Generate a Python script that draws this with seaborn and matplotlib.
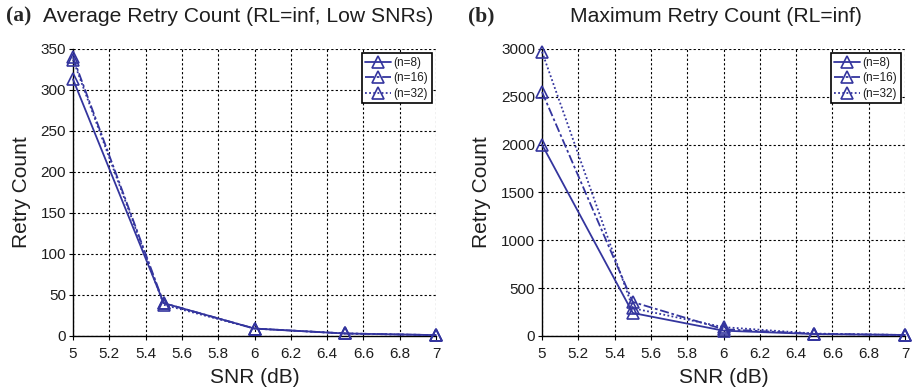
import matplotlib
matplotlib.use("Agg")
import matplotlib.pyplot as plt
import seaborn as sns
import pandas as pd

snr = [5.0, 5.5, 6.0, 6.5, 7.0]
series_names = ["(n=8)", "(n=16)", "(n=32)"]
avg_n8 = [313, 40, 9, 3, 1]
avg_n16 = [340, 40, 9, 3, 1]
avg_n32 = [337, 38, 9, 3, 1]
max_n8 = [2000, 240, 55, 20, 10]
max_n16 = [2550, 355, 70, 22, 10]
max_n32 = [2970, 290, 92, 25, 10]

x_ticks = [5, 5.2, 5.4, 5.6, 5.8, 6, 6.2, 6.4, 6.6, 6.8, 7]
x_ticklabels = ["5", "5.2", "5.4", "5.6", "5.8", "6", "6.2", "6.4", "6.6", "6.8", "7"]
avg_yticks = [0, 50, 100, 150, 200, 250, 300, 350]
max_yticks = [0, 500, 1000, 1500, 2000, 2500, 3000]

sns.set_theme(style="white")
plt.rcParams['font.family'] = ['Liberation Sans', 'DejaVu Sans']

color = "#34359e"
text_color = "#1e1e1e"
dash_map = {"(n=8)": "", "(n=16)": (5, 1.5, 1.5, 1.5), "(n=32)": (1, 1.3)}


def make_df(a, b, c):
    rows = []
    for name, vals in zip(series_names, [a, b, c]):
        for x, y in zip(snr, vals):
            rows.append({"SNR": x, "Retry": y, "n": name})
    return pd.DataFrame(rows)


fig = plt.figure(figsize=(9.15, 3.92), dpi=100)
ax1 = fig.add_axes([0.0798, 0.143, 0.3967, 0.732])
ax2 = fig.add_axes([0.5924, 0.143, 0.3967, 0.732])

panels = [
    (ax1, make_df(avg_n8, avg_n16, avg_n32), avg_yticks, (0, 350)),
    (ax2, make_df(max_n8, max_n16, max_n32), max_yticks, (0, 3000)),
]

for ax, df, yt, ylim in panels:
    sns.lineplot(data=df, x="SNR", y="Retry", style="n", ax=ax,
                 markers={k: "^" for k in series_names}, dashes=dash_map,
                 color=color, markerfacecolor="none", markeredgecolor=color,
                 markeredgewidth=1.2, markersize=9, linewidth=1.3,
                 clip_on=False, zorder=5)
    ax.set_xlim(5, 7)
    ax.set_ylim(*ylim)
    ax.set_xticks(x_ticks)
    ax.set_xticklabels(x_ticklabels)
    ax.set_yticks(yt)
    ax.tick_params(axis="both", labelsize=11, direction="out", length=3,
                   width=0.8, colors="black", labelcolor=text_color,
                   left=True, bottom=True)
    ax.tick_params(axis="x", pad=5)
    ax.tick_params(axis="y", pad=2)
    ax.grid(True, color="black", linestyle=(0, (2, 2)), linewidth=0.8)
    for s in ["top", "right"]:
        ax.spines[s].set_visible(False)
    for s in ["left", "bottom"]:
        ax.spines[s].set_color("black")
        ax.spines[s].set_linewidth(1.0)
    ax.set_xlabel("SNR (dB)", fontsize=15, color=text_color, labelpad=5)
    ax.set_ylabel("Retry Count", fontsize=15, color=text_color, labelpad=7)
    leg = ax.legend(loc="upper right", fontsize=8.5, frameon=True, fancybox=False,
                    handlelength=2.2, handletextpad=0.2, borderpad=0.3,
                    labelspacing=0.3, borderaxespad=0.35, framealpha=1)
    leg.get_frame().set_edgecolor("black")
    leg.get_frame().set_linewidth(1.2)
    leg.set_zorder(10)
    for t in leg.get_texts():
        t.set_color(text_color)

fig.text(0.007, 0.958, "(a)", fontsize=15.5, fontweight="bold",
         family=["Liberation Serif", "DejaVu Serif"], va="center")
fig.text(0.047, 0.958, "Average Retry Count (RL=inf, Low SNRs)", fontsize=15.2,
         color=text_color, va="center")
fig.text(0.511, 0.958, "(b)", fontsize=15.5, fontweight="bold",
         family=["Liberation Serif", "DejaVu Serif"], va="center")
fig.text(0.623, 0.958, "Maximum Retry Count (RL=inf)", fontsize=15.2,
         color=text_color, va="center")

fig.savefig("out.png", dpi=100)
